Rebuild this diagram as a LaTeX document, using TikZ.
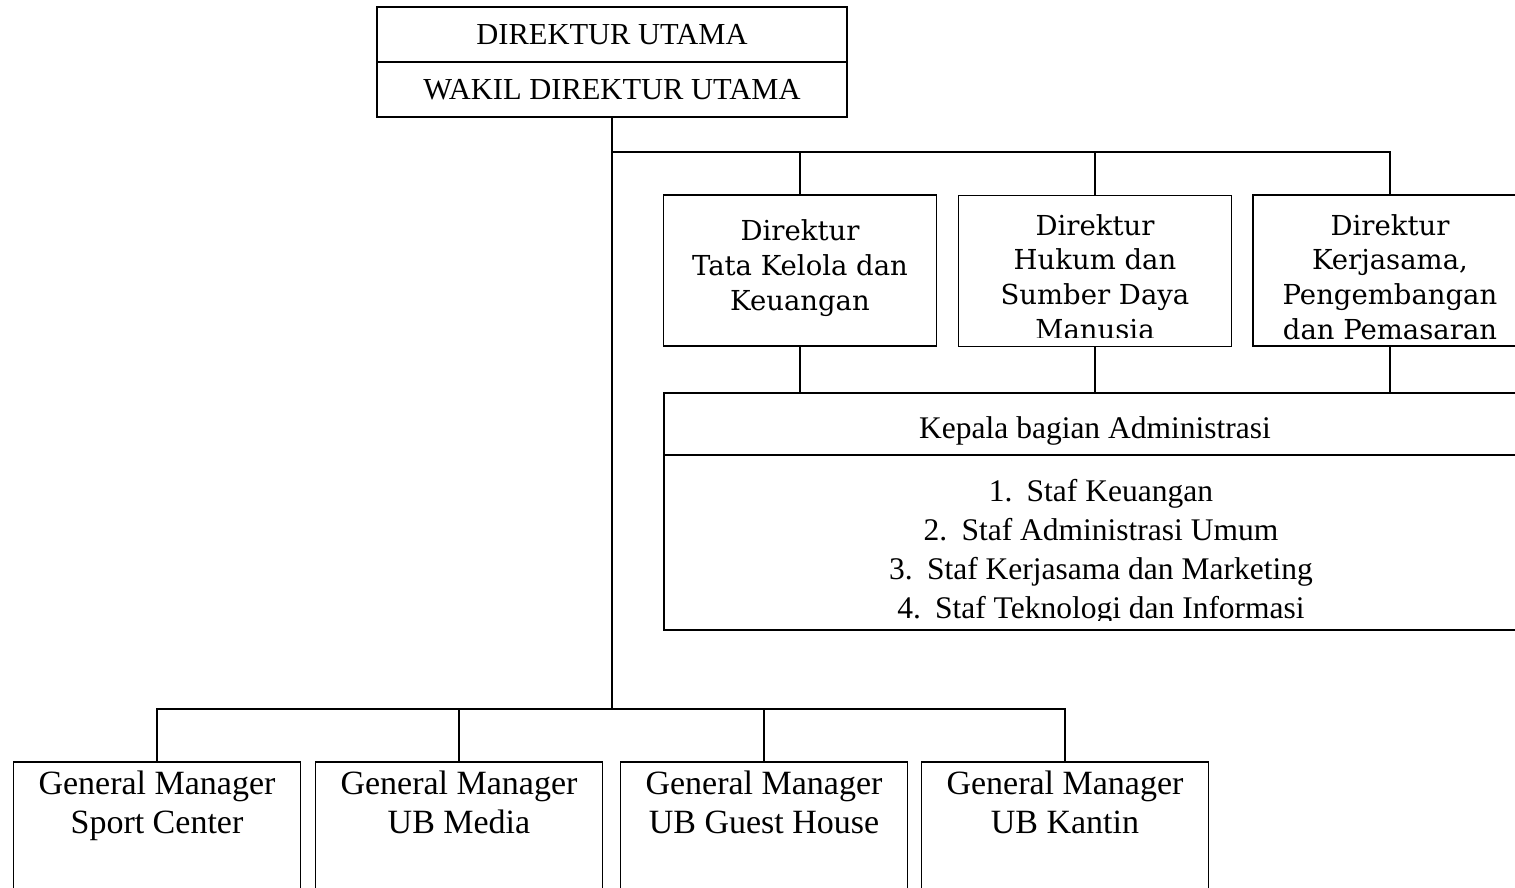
\documentclass[tikz,border=0pt]{standalone}
\usepackage{fontspec}
\setmainfont{Liberation Serif}
\newfontfamily\dirfont{DejaVu Serif}
\begin{document}
\begin{tikzpicture}[x=1pt,y=-1pt, line width=1.2pt,
  box/.style={draw, inner sep=0pt, outer sep=0pt, align=center},
  topfont/.style={font=\fontsize{30.5}{36}\selectfont},
  dirbox/.style={box, minimum width=273pt, minimum height=151pt},
  dirtext/.style={inner sep=0pt, align=center, font=\dirfont\fontsize{27.5}{34.7}\selectfont},
  gmbox/.style={box, anchor=north, minimum width=287pt, minimum height=150pt},
  gmtext/.style={inner sep=0pt, anchor=north, align=center, font=\fontsize{34}{39}\selectfont},
  admfont/.style={font=\fontsize{31.5}{39}\selectfont},
]
\useasboundingbox (0,0) rectangle (1515,888);
\clip (0,0) rectangle (1515,888);

% top
\node[box, topfont, minimum width=470pt, minimum height=55pt] (du) at (612,34.5) {\raisebox{-2pt}{DIREKTUR UTAMA}};
\node[box, topfont, minimum width=470pt, minimum height=55pt, anchor=north] (wdu) at (du.south) {WAKIL DIREKTUR UTAMA};

% directors
\node[dirbox] (d1) at (800,270.5) {};
\node[dirbox] (d2) at (1095,271) {};
\node[dirbox, minimum width=274pt] (d3) at (1390,270.5) {};
\node[dirtext] at (800,268) {Direktur\\Tata Kelola dan\\Keuangan};
\begin{scope}
  \clip (950,196) rectangle (1240,337);
  \node[dirtext] at (1095,277) {Direktur\\Hukum dan\\Sumber Daya\\Manusia};
\end{scope}
\node[dirtext] at (1390,277) {Direktur\\Kerjasama,\\Pengembangan\\dan Pemasaran};

% administration
\node[box, minimum width=862pt, minimum height=62pt] (kba) at (1095,424) {};
\node[inner sep=0pt, admfont] at ([yshift=-7pt]kba.center) {Kepala bagian Administrasi};
\node[box, minimum width=862pt, minimum height=175pt, anchor=north] (staf) at (kba.south) {};
\begin{scope}
  \clip (660,456) rectangle (1530,620);
  \node[inner sep=0pt, align=center, admfont] at (1101,552) {1.\hspace{0.45em}Staf Keuangan\\2.\hspace{0.45em}Staf Administrasi Umum\\3.\hspace{0.45em}Staf Kerjasama dan Marketing\\4.\hspace{0.45em}Staf Teknologi dan Informasi};
\end{scope}

% general managers
\node[gmbox] (g1) at (157,762) {};
\node[gmbox] (g2) at (459,762) {};
\node[gmbox] (g3) at (764,762) {};
\node[gmbox] (g4) at (1065,762) {};
\node[gmtext] at ([yshift=-8pt]g1.north) {General Manager\\Sport Center};
\node[gmtext] at ([yshift=-8pt]g2.north) {General Manager\\UB Media};
\node[gmtext] at ([yshift=-8pt]g3.north) {General Manager\\UB Guest House};
\node[gmtext] at ([yshift=-8pt]g4.north) {General Manager\\UB Kantin};

% connectors
\coordinate (jd) at (612,152);
\coordinate (jg) at (612,709);
\draw (wdu.south) -- (jg);
\draw (jd) -| (d3.north);
\draw (d1.north) -- (d1.north |- jd);
\draw (d2.north) -- (d2.north |- jd);
\draw (d1.south) -- (d1.south |- kba.north);
\draw (d2.south) -- (d2.south |- kba.north);
\draw (d3.south) -- (d3.south |- kba.north);
\draw (g1.north) |- (jg);
\draw (g4.north) |- (jg);
\draw (g2.north) -- (g2.north |- jg);
\draw (g3.north) -- (g3.north |- jg);
\end{tikzpicture}
\end{document}
